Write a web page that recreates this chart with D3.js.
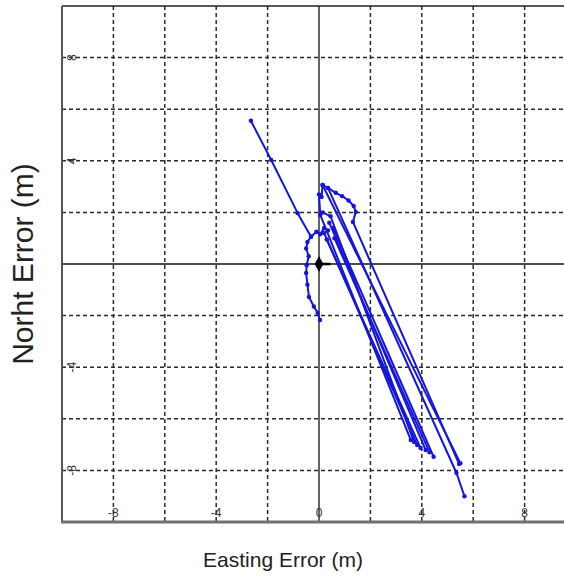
<!DOCTYPE html>
<html>
<head>
<meta charset="utf-8">
<script src="https://cdn.jsdelivr.net/npm/d3@7"></script>
<style>
  body { margin: 0; background: #fff; }
  svg { display: block; font-family: "Liberation Sans", Arial, sans-serif; }
</style>
</head>
<body>
<svg class="chart" width="564" height="579"></svg>
<script>
// tick values / labels
let gridTicks = [-8, -6, -4, -2, 2, 4, 6, 8];
let xTickLabels = [-8, -4, 0, 4, 8];
let yTickLabels = [8, 4, -4, -8];

// error tracks [east, north] in metres
let trackWest = [[-2.65, 5.55], [-1.86, 4.03], [-0.83, 1.97], [-0.31, 1.06], [-0.45, 0.85], [-0.5, 0.6],
    [-0.4, 0.3], [-0.48, -0.05], [-0.5, -0.35], [-0.45, -0.8], [-0.39, -1.28], [-0.2, -1.65],
    [-0.05, -1.9], [0.04, -2.17]];
let trackLink = [[-0.31, 1.06], [-0.1, 1.25], [0.05, 1.15], [0.2, 1.4], [0.35, 1.3]];
let trackMain1 = [[0.2, 1.2], [3.82, -7.02]];
let trackMain2 = [[0.3, 0.95], [3.95, -7.13]];
let trackMain3 = [[0.4, 1.6], [4.15, -7.21]];
let trackMain4 = [[0.6, 1.0], [4.3, -7.3]];
let trackMain5 = [[0.55, 1.4], [4.46, -7.47]];
let trackMain6 = [[0.0, 2.7], [0.05, 1.9], [3.57, -6.82]];
let trackMain7 = [[0.15, 2.0], [0.45, 1.85], [3.7, -6.9]];
let trackArc = [[0.1, 2.6], [0.14, 3.06], [0.35, 2.95], [0.65, 2.76], [0.9, 2.63], [1.15, 2.46],
    [1.35, 2.25], [1.43, 2.02], [1.32, 1.63], [5.45, -7.75]];
let trackEast1 = [[0.14, 3.06], [5.5, -7.72]];
let trackEast2 = [[0.35, 2.95], [5.35, -8.1], [5.66, -9.0]];

let tracks = [trackWest, trackLink, trackMain1, trackMain2, trackMain3, trackMain4, trackMain5,
    trackMain6, trackMain7, trackArc, trackEast1, trackEast2];

function drawChart() {
    var svg = d3.select(".chart");
    let x = d3.scaleLinear().domain([-10, 10]).range([62, 576]);
    let y = d3.scaleLinear().domain([-10, 10]).range([522, 6]);

    // dashed grid
    let g = svg.append("g").attr("class", "grid");
    g.selectAll("line.v")
      .data(gridTicks)
      .enter().append("line")
        .attr("x1", d => x(d)).attr("x2", d => x(d))
        .attr("y1", y(10)).attr("y2", y(-10))
        .attr("stroke", "#2a2a2a").attr("stroke-width", 1.5)
        .attr("stroke-dasharray", "4,3");
    g.selectAll("line.h")
      .data(gridTicks)
      .enter().append("line")
        .attr("y1", d => y(d)).attr("y2", d => y(d))
        .attr("x1", x(-10)).attr("x2", x(10))
        .attr("stroke", "#2a2a2a").attr("stroke-width", 1.5)
        .attr("stroke-dasharray", "4,3");

    // zero axes
    svg.append("line").attr("x1", x(0)).attr("x2", x(0)).attr("y1", y(10)).attr("y2", y(-10))
        .attr("stroke", "#111").attr("stroke-width", 1.3);
    svg.append("line").attr("x1", x(-10)).attr("x2", x(10)).attr("y1", y(0)).attr("y2", y(0))
        .attr("stroke", "#111").attr("stroke-width", 1.3);

    // tick labels
    g = svg.append("g").attr("class", "ticks").attr("fill", "#333").attr("font-size", 12);
    g.selectAll("text.x")
      .data(xTickLabels)
      .enter().append("text")
        .attr("x", d => x(d)).attr("y", 517)
        .attr("text-anchor", "middle")
        .text(d => d);
    g.selectAll("text.y")
      .data(yTickLabels)
      .enter().append("text")
        .attr("text-anchor", "middle")
        .attr("transform", d => "translate(" + 76 + "," + y(d) + ") rotate(-90)")
        .text(d => d);

    // tracks
    let line = d3.line().x(d => x(d[0])).y(d => y(d[1]));
    g = svg.append("g").attr("class", "tracks");
    g.selectAll("path")
      .data(tracks)
      .enter().append("path")
        .attr("d", line)
        .attr("fill", "none")
        .attr("stroke", "#1515dc")
        .attr("stroke-width", 2)
        .attr("stroke-linejoin", "round");
    g.selectAll("circle")
      .data(tracks.flat())
      .enter().append("circle")
        .attr("cx", d => x(d[0])).attr("cy", d => y(d[1]))
        .attr("r", 2.2)
        .attr("fill", "#1515dc");

    // reference point at origin
    svg.append("line").attr("x1", x(0)).attr("x2", x(0.45)).attr("y1", y(0)).attr("y2", y(0))
        .attr("stroke", "#000").attr("stroke-width", 2.5);
    svg.append("path")
        .attr("d", d3.symbol().type(d3.symbolDiamond).size(70))
        .attr("transform", "translate(" + x(0) + "," + y(0) + ")")
        .attr("fill", "#000");

    // frame
    svg.append("line").attr("x1", x(-10)).attr("x2", 564).attr("y1", y(10)).attr("y2", y(10))
        .attr("stroke", "#222").attr("stroke-width", 1.5);
    svg.append("line").attr("x1", x(-10)).attr("x2", x(-10)).attr("y1", y(10)).attr("y2", y(-10))
        .attr("stroke", "#555").attr("stroke-width", 2);
    svg.append("line").attr("x1", x(-10) - 1).attr("x2", 564).attr("y1", y(-10)).attr("y2", y(-10))
        .attr("stroke", "#707070").attr("stroke-width", 3);

    // axis titles
    svg.append("text")
        .attr("transform", "translate(" + 33 + "," + 264 + ") rotate(-90)")
        .attr("text-anchor", "middle")
        .attr("font-size", 30)
        .attr("fill", "#222")
        .text("Norht Error (m)");
    svg.append("text")
        .attr("x", 283).attr("y", 567)
        .attr("text-anchor", "middle")
        .attr("font-size", 21)
        .attr("fill", "#222")
        .text("Easting Error (m)");
}

drawChart();
</script>
</body>
</html>
